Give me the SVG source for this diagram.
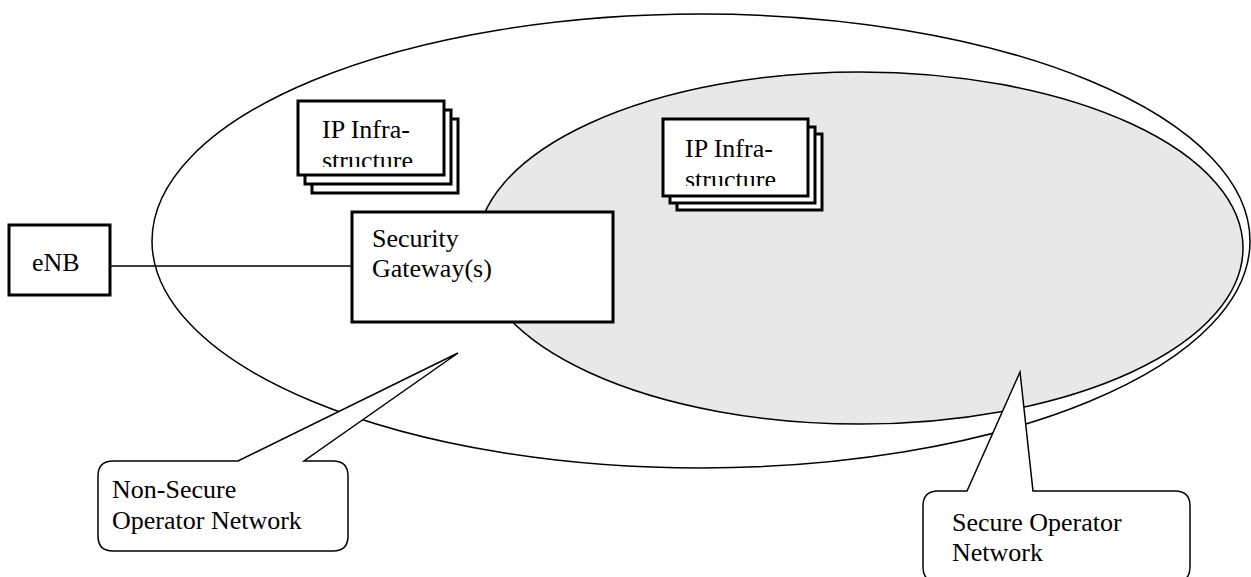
<svg xmlns="http://www.w3.org/2000/svg" width="1251" height="577" viewBox="0 0 1251 577">
<defs>
<style>
text{font-family:"Liberation Serif","Times New Roman",serif;font-size:26px;fill:#000}
.box{fill:#fff;stroke:#000;stroke-width:3}
.thin{stroke:#000;stroke-width:1.5;fill:none}
.callout{fill:#fff;stroke:#000;stroke-width:1.5;stroke-linejoin:miter}
</style>
<clipPath id="c1"><rect x="300" y="103" width="143" height="64"/></clipPath>
<clipPath id="c2"><rect x="665" y="121" width="141" height="65"/></clipPath>
</defs>
<g id="outer-network">
<ellipse cx="701" cy="241" rx="549" ry="227" class="thin" fill="#fff"/>
</g>
<g id="secure-network">
<ellipse cx="860" cy="248" rx="383" ry="176" fill="#e8e8e8" stroke="#000" stroke-width="1.5"/>
</g>
<g id="ip-infra-1">
<rect x="312" y="119" width="146" height="74" class="box"/>
<rect x="305" y="110" width="146" height="74" class="box"/>
<rect x="298" y="101" width="146" height="74" class="box"/>
<g clip-path="url(#c1)">
<text x="322" y="138">IP Infra-</text>
<text x="322" y="169">structure</text>
</g>
</g>
<g id="ip-infra-2">
<rect x="677" y="134" width="145" height="76" class="box"/>
<rect x="670" y="127" width="145" height="76" class="box"/>
<rect x="663" y="119" width="145" height="77" class="box"/>
<g clip-path="url(#c2)">
<text x="685" y="157">IP Infra-</text>
<text x="685" y="188">structure</text>
</g>
</g>
<g id="connectors">
<line x1="110" y1="266" x2="352" y2="266" class="thin"/>
</g>
<g id="enb">
<rect x="9" y="225" width="101" height="70" class="box"/>
<text x="32" y="271">eNB</text>
</g>
<g id="security-gateway">
<rect x="352" y="212" width="261" height="110" class="box"/>
<text x="372" y="247">Security</text>
<text x="372" y="277">Gateway(s)</text>
</g>
<g id="callout-non-secure">
<path class="callout" d="M113,461 L238,461 L458,353 L304,461 L333,461 Q348,461 348,476 L348,536 Q348,551 333,551 L113,551 Q98,551 98,536 L98,476 Q98,461 113,461 Z"/>
<text x="112" y="498">Non-Secure</text>
<text x="112" y="529">Operator Network</text>
</g>
<g id="callout-secure">
<path class="callout" d="M938,491 L967,491 L1020,372 L1033,491 L1175,491 Q1190,491 1190,506 L1190,567 Q1190,582 1175,582 L938,582 Q923,582 923,567 L923,506 Q923,491 938,491 Z"/>
<text x="952" y="531">Secure Operator</text>
<text x="952" y="561">Network</text>
</g>
</svg>
